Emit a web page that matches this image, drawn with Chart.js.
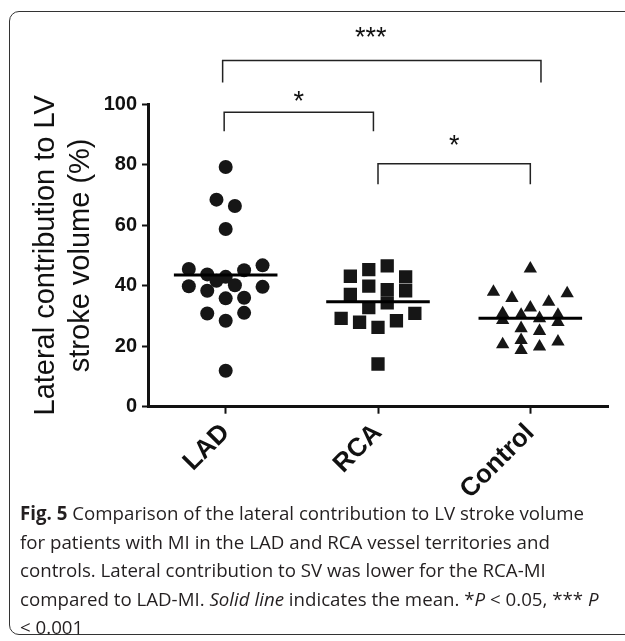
<!DOCTYPE html>
<html>
<head>
<meta charset="utf-8">
<script src="https://cdn.jsdelivr.net/npm/chart.js@4.4.0/dist/chart.umd.min.js"></script>
<style>
  body { margin: 0; background: #fff; width: 625px; height: 641px; overflow: hidden; position: relative; }
  #frame { position: absolute; left: 9px; top: 11px; width: 700px; height: 622px; border: 1.5px solid #333; border-radius: 10px; }
  #wrap { position: absolute; left: 0; top: 0; width: 625px; height: 520px; }
  #caption { position: absolute; left: 20px; top: 499px; font-family: "Open Sans"; font-size: 18.7px; line-height: 28.5px; color: #231f20; white-space: nowrap; }
</style>
</head>
<body>
<div id="frame"></div>
<div id="wrap"><canvas id="chart"></canvas></div>
<div id="caption"><b>Fig. 5</b> Comparison of the lateral contribution to LV stroke volume<br>for patients with MI in the LAD and RCA vessel territories and<br>controls. Lateral contribution to SV was lower for the RCA-MI<br>compared to LAD-MI. <i>Solid line</i> indicates the mean. *<i>P</i> &lt; 0.05, *** <i>P</i><br>&lt; 0.001</div>
<script>
// groups on the x axis
var groups = ['LAD', 'RCA', 'Control'];

// lateral contribution to LV stroke volume (%)
var ladValues = [79.2, 68.4, 66.3, 58.7, 45.5, 43.7, 42.9, 45.1, 46.7, 41.6, 39.8, 38.3, 40.1, 39.6, 35.8, 36.0, 30.8, 31.0, 28.4, 11.9];
var rcaValues = [46.5, 45.3, 43.1, 42.9, 39.8, 38.7, 38.3, 37.1, 34.3, 32.7, 29.2, 27.9, 30.8, 28.4, 26.2, 14.1];
var controlValues = [45.6, 37.9, 35.9, 37.4, 34.6, 32.7, 30.8, 28.6, 30.3, 29.2, 30.3, 27.9, 25.9, 25.0, 22.0, 20.6, 18.7, 19.8, 21.5];

// scatter column of each point (dot-plot spread), as seen in the figure
var ladColumns = [0, -1, 1, 0, -4, -2, 0, 2, 4, -1, -4, -2, 1, 4, 0, 2, -2, 2, 0, 0];
var rcaColumns = [1, -1, -3, 3, -1, 1, 3, -3, 1, -1, -4, -2, 4, 2, 0, 0];
var controlColumns = [0, -4, -2, 4, 2, 0, -3, -3, -1, 1, 3, 3, -1, 1, -1, -3, -1, 1, 3];

var yTicks = [0, 20, 40, 60, 80, 100];

// significance comparisons
var sigFrom = [0, 0, 1];
var sigTo = [2, 1, 2];
var sigLabels = ['***', '*', '*'];

var colStep = 0.0605;
var meanHalf = 0.34;

function points(vals, cols, g) {
  var out = [];
  for (var i = 0; i < vals.length; i++) {
    out.push({ x: g + 1 + cols[i] * colStep, y: vals[i] });
  }
  return out;
}

function meanLine(vals, g) {
  var s = 0;
  for (var i = 0; i < vals.length; i++) s += vals[i];
  var m = s / vals.length;
  return [{ x: g + 1 - meanHalf, y: m }, { x: g + 1 + meanHalf, y: m }];
}

var bracketPlugin = {
  id: 'brackets',
  afterDatasetsDraw: function(chart, args, opts) {
    var ctx = chart.ctx, xs = chart.scales.x, ys = chart.scales.y;
    ctx.save();
    ctx.strokeStyle = '#222';
    ctx.lineWidth = 1.5;
    ctx.fillStyle = '#111';
    ctx.font = '27px "Liberation Sans"';
    ctx.textAlign = 'center';
    ctx.textBaseline = 'middle';
    for (var i = 0; i < sigFrom.length; i++) {
      var x1 = xs.getPixelForValue(sigFrom[i] + 1 + opts.nudgeL[i]);
      var x2 = xs.getPixelForValue(sigTo[i] + 1 + opts.nudgeR[i]);
      var yTop = ys.getPixelForValue(opts.level[i]);
      var yLeg = ys.getPixelForValue(opts.leg[i]);
      ctx.beginPath();
      ctx.moveTo(x1, yLeg);
      ctx.lineTo(x1, yTop);
      ctx.lineTo(x2, yTop);
      ctx.lineTo(x2, yLeg);
      ctx.stroke();
      ctx.fillText(sigLabels[i], (x1 + x2) / 2 + opts.starDx[i], yTop - opts.starGap[i] + 5);
    }
    ctx.restore();
  }
};

var ctx = document.getElementById('chart');
var markColor = '#161616';

new Chart(ctx, {
  type: 'scatter',
  data: {
    datasets: [
      { type: 'line', data: meanLine(ladValues, 0), borderColor: '#000', borderWidth: 3, pointRadius: 0 },
      { type: 'line', data: meanLine(rcaValues, 1), borderColor: '#000', borderWidth: 3, pointRadius: 0 },
      { type: 'line', data: meanLine(controlValues, 2), borderColor: '#000', borderWidth: 3, pointRadius: 0 },
      { label: groups[0], data: points(ladValues, ladColumns, 0), pointStyle: 'circle', pointRadius: 7, backgroundColor: markColor, borderWidth: 0 },
      { label: groups[1], data: points(rcaValues, rcaColumns, 1), pointStyle: 'rect', pointRadius: 9.4, backgroundColor: markColor, borderWidth: 0 },
      { label: groups[2], data: points(controlValues, controlColumns, 2), pointStyle: 'triangle', pointRadius: 7.7, backgroundColor: markColor, borderWidth: 0 }
    ]
  },
  options: {
    responsive: true,
    maintainAspectRatio: false,
    animation: false,
    events: [],
    layout: { autoPadding: false, padding: { left: 0, top: 104, right: 17, bottom: 0 } },
    plugins: {
      legend: { display: false },
      tooltip: { enabled: false },
      brackets: {
        nudgeL: [-0.02, -0.01, 0.0],
        nudgeR: [0.07, -0.03, 0.0],
        level: [114.4, 97.3, 80.3],
        leg: [107.1, 91.0, 73.5],
        starGap: [27, 15, 21.6],
        starDx: [-11, 0, 0]
      }
    },
    scales: {
      x: {
        type: 'linear',
        min: 0.49,
        max: 3.51,
        afterBuildTicks: function(scale) {
          scale.ticks = groups.map(function(g, i) { return { value: i + 1 }; });
        },
        afterFit: function(scale) { scale.height = 113.3; },
        border: { display: true, color: '#111', width: 3 },
        grid: { drawOnChartArea: false, drawTicks: true, tickLength: 7, tickWidth: 2, tickColor: '#111', color: '#111' },
        ticks: {
          minRotation: 45,
          maxRotation: 45,
          padding: 4,
          color: '#111',
          font: { family: '"Liberation Sans"', size: 26, weight: 'bold' },
          callback: function(v) { return groups[v - 1]; }
        }
      },
      y: {
        min: 0,
        max: 100,
        afterBuildTicks: function(scale) {
          scale.ticks = yTicks.map(function(v) { return { value: v }; });
        },
        afterFit: function(scale) { scale.width = 148; },
        border: { display: true, color: '#111', width: 3 },
        grid: { drawOnChartArea: false, drawTicks: true, tickLength: 6, tickWidth: 2, tickColor: '#111', color: '#111' },
        ticks: {
          padding: 5,
          color: '#111',
          font: { family: '"Liberation Sans"', size: 20, weight: 'bold' }
        },
        title: {
          display: true,
          text: ['Lateral contribution to LV', 'stroke volume (%)'],
          color: '#111',
          padding: { top: 29 },
          font: { family: '"Liberation Sans"', size: 29, lineHeight: 1.2 }
        }
      }
    }
  },
  plugins: [bracketPlugin]
});
</script>
</body>
</html>
